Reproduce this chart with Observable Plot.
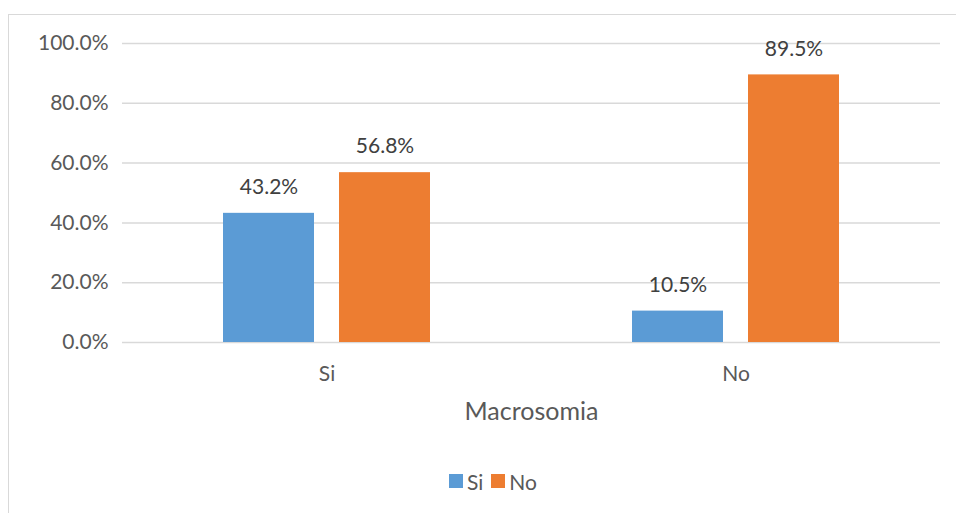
<!DOCTYPE html>
<html>
<head>
<meta charset="utf-8">
<script src="https://cdn.jsdelivr.net/npm/d3@7"></script>
<script src="https://cdn.jsdelivr.net/npm/@observablehq/plot@0.6"></script>
<style>
  html, body { margin: 0; padding: 0; background: #fff; width: 956px; height: 513px; overflow: hidden; }
  #frame { position: absolute; left: 8px; top: 14px; width: 960px; height: 520px;
           border-left: 1px solid #d9d9d9; border-top: 1px solid #d9d9d9; }
  #chart { position: absolute; left: 0; top: 0; }
  #chart [aria-label="fx-axis label"], #chart [aria-label="fx-axis label"] text { font-size: 25px; }
  #legend { position: absolute; left: 0; width: 968px; top: 452px; text-align: center;
            font-family: Lato, sans-serif; font-size: 21px; color: #595959; }
  #legend span.item { display: inline-flex; align-items: center; margin: 0 4px; }
  #legend span.sw { display: inline-block; width: 14px; height: 14px; margin-right: 4px; }
</style>
</head>
<body>
<div id="frame">
  <div id="chart"></div>
  <div id="legend"></div>
</div>
<script>
const categories = ["Si", "No"];           // Macrosomia
const series = ["Si", "No"];
const siValues = [0.432, 0.105];
const noValues = [0.568, 0.895];
const yTicks = [0, 0.2, 0.4, 0.6, 0.8, 1.0];
const colors = ["#5b9bd5", "#ed7d31"];
const xTitle = "Macrosomia";

const data = categories.flatMap((c, i) => [
  {group: c, serie: series[0], value: siValues[i]},
  {group: c, serie: series[1], value: noValues[i]}
]);
const fmt = d3.format(".1%");

const plot = Plot.plot({
  width: 946,
  height: 420,
  marginLeft: 112,
  marginRight: 15,
  marginTop: 28,
  marginBottom: 93,
  style: {fontFamily: "Lato, sans-serif", fontSize: "21px", color: "#595959", background: "transparent"},
  fx: {domain: categories, padding: 0, axis: null},
  x: {domain: series, paddingInner: 0.214, paddingOuter: 0.859, axis: null},
  y: {domain: [0, 1]},
  color: {domain: series, range: colors},
  marks: [
    Plot.gridY(yTicks, {stroke: "#d9d9d9", strokeOpacity: 1, strokeWidth: 1.5}),
    Plot.axisY(yTicks, {tickSize: 0, tickPadding: 14, tickFormat: fmt, label: null, fill: "#595959"}),
    Plot.axisFx({anchor: "bottom", tickSize: 0, tickPadding: 24, label: xTitle, labelAnchor: "center", labelArrow: "none",
                 labelOffset: 77, fill: "#595959"}),
    Plot.barY(data, {fx: "group", x: "serie", y: "value", fill: "serie"}),
    Plot.text(data, {fx: "group", x: "serie", y: "value", text: d => fmt(d.value), dy: -26,
                     fill: "#404040"})
  ]
});
document.getElementById("chart").appendChild(plot);

const legend = document.getElementById("legend");
series.forEach((s, i) => {
  const item = document.createElement("span");
  item.className = "item";
  const sw = document.createElement("span");
  sw.className = "sw";
  sw.style.background = colors[i];
  item.appendChild(sw);
  item.appendChild(document.createTextNode(s));
  legend.appendChild(item);
});
</script>
</body>
</html>
